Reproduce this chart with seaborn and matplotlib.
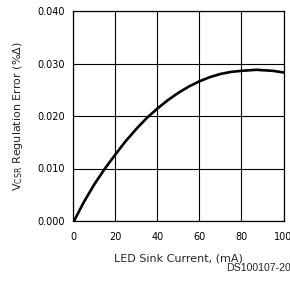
import matplotlib
matplotlib.use("Agg")
import matplotlib.pyplot as plt
import seaborn as sns
import pandas as pd

# Data
current_ma = [0.5, 5, 10, 15, 20, 25, 30, 35, 40, 45, 50, 55, 60, 65, 70, 75, 80, 87, 95, 100]
error_pct = [0.0, 0.0035, 0.0069, 0.0099, 0.0126, 0.0152, 0.0175, 0.0196, 0.0214, 0.0230,
             0.0244, 0.0256, 0.0266, 0.0274, 0.0280, 0.0284, 0.0286, 0.0288, 0.0286, 0.0283]
x_ticks = [0, 20, 40, 60, 80, 100]
y_ticks = [0.000, 0.010, 0.020, 0.030, 0.040]
y_tick_labels = ["0.000", "0.010", "0.020", "0.030", "0.040"]

sns.set_style("white")
plt.rcParams["font.family"] = ["DejaVu Sans"]

df = pd.DataFrame({"current": current_ma, "error": error_pct})

fig = plt.figure(figsize=(2.90, 2.84), dpi=100)
ax = fig.add_axes([73/290, 1 - 221/284, (283.5 - 73)/290, (221 - 11)/284])

sns.lineplot(data=df, x="current", y="error", ax=ax, color="black", linewidth=1.9)

ax.set_xlim(0, 100)
ax.set_ylim(0, 0.040)
ax.set_xticks(x_ticks)
ax.set_xticklabels([str(t) for t in x_ticks])
ax.set_yticks(y_ticks)
ax.set_yticklabels(y_tick_labels)
ax.grid(True, color="black", linewidth=0.8)
for s in ax.spines.values():
    s.set_color("black")
    s.set_linewidth(0.9)
    s.set_visible(True)
ax.tick_params(axis="both", length=0, labelsize=7, colors="black")
ax.tick_params(axis="x", pad=8)
ax.tick_params(axis="y", pad=6)

ax.set_xlabel("LED Sink Current, (mA)", fontsize=8, labelpad=8)
ax.set_ylabel("V$_{\\mathregular{CSR}}$ Regulation Error (%\u0394)", fontsize=8, labelpad=9)

fig.text(226/290, 1 - 268/284, "DS100107-20", fontsize=7.6, family=["Liberation Sans"],
         ha="left", va="center")

fig.savefig("out.png", dpi=100)
